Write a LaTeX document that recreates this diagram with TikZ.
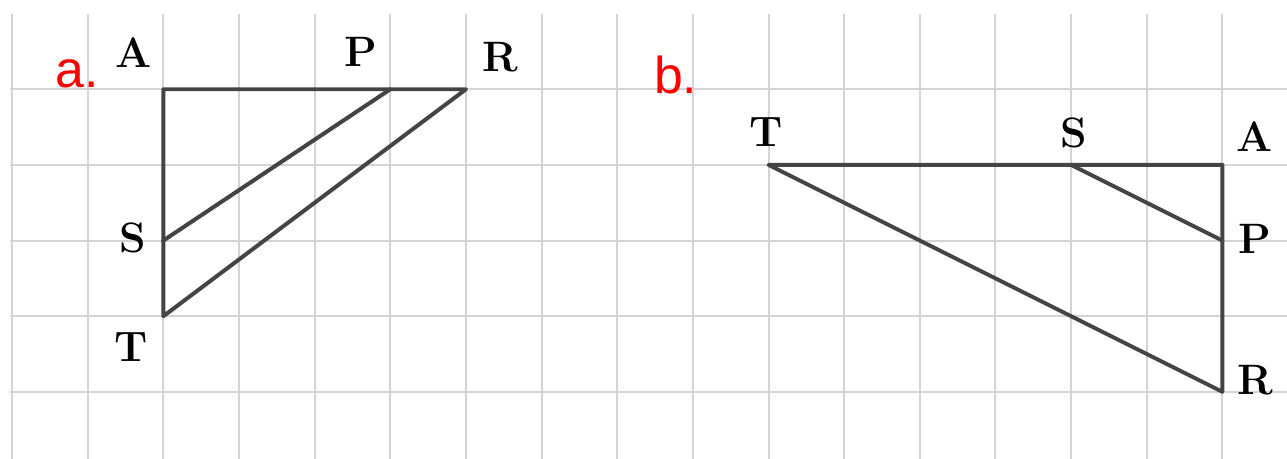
\documentclass[tikz,border=0pt]{standalone}
\usepackage{fontspec}
\newfontfamily\tagfont{Liberation Sans}
\usetikzlibrary{positioning}
\definecolor{gridgray}{RGB}{212,212,212}
\definecolor{edgegray}{RGB}{68,68,68}

\begin{document}
\begin{tikzpicture}[
        pt/.style={font=\fontsize{16}{19}\selectfont\bfseries, inner sep=0pt},
        edge/.style={draw=edgegray, line width=1.5pt, line cap=round, line join=round},
        tag/.style={font=\tagfont\fontsize{19.5}{23}\selectfont, text=red, anchor=base west, inner sep=0pt}
    ]
            \useasboundingbox (-0.16,-0.886) rectangle (16.855,5.18);
            \draw[gridgray, line width=0.75pt] (-0.03,-0.95) grid (16.95,4.99);

            % figure a
            \node[tag] (tag_a) at (0.57, 4.02) {a.};
            \coordinate (A_a) at (2, 4);
            \coordinate (P_a) at (5, 4);
            \coordinate (R_a) at (6, 4);
            \coordinate (S_a) at (2, 2);
            \coordinate (T_a) at (2, 1);

            \node[pt] (A_a_lbl) at (1.60, 4.49) {A};
            \node[pt] (P_a_lbl) at (4.61, 4.49) {P};
            \node[pt] (R_a_lbl) at (6.46, 4.42) {R};
            \node[pt] (S_a_lbl) at (1.60, 2.04) {S};
            \node[pt] (T_a_lbl) at (1.57, 0.59) {T};

            \draw[edge] (A_a) -- (R_a) -- (T_a) -- cycle;
            \draw[edge] (S_a) -- (P_a);

            % figure b
            \node[tag] (tag_b) at (8.48, 3.95) {b.};
            \coordinate (T_b) at (10, 3);
            \coordinate (S_b) at (14, 3);
            \coordinate (A_b) at (16, 3);
            \coordinate (P_b) at (16, 2);
            \coordinate (R_b) at (16, 0);

            \node[pt] (T_b_lbl) at (9.97, 3.44) {T};
            \node[pt] (S_b_lbl) at (14.03, 3.42) {S};
            \node[pt] (A_b_lbl) at (16.42, 3.38) {A};
            \node[pt] (P_b_lbl) at (16.43, 2.02) {P};
            \node[pt] (R_b_lbl) at (16.44, 0.15) {R};

            \draw[edge] (T_b) -- (A_b) -- (R_b) -- cycle;
            \draw[edge] (S_b) -- (P_b);
      \end{tikzpicture}
\end{document}
